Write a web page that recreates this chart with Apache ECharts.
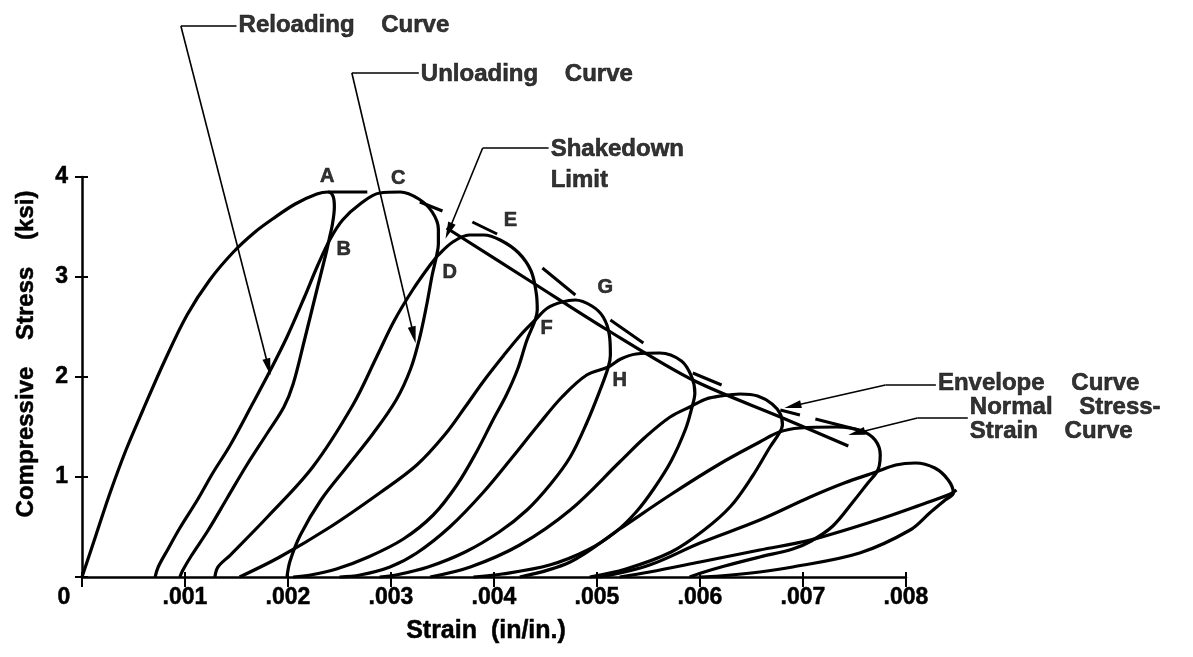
<!DOCTYPE html>
<html>
<head>
<meta charset="utf-8">
<script src="https://cdn.jsdelivr.net/npm/echarts/dist/echarts.min.js"></script>
<style>
  html, body { margin: 0; padding: 0; background: #fff; }
  #chart { width: 1193px; height: 657px; }
</style>
</head>
<body>
<div id="chart"></div>
<script>
// Cyclic compression of plain concrete: stress (ksi) against strain (in/in.)
const FONT = 'Liberation Sans';

const xTickLabels = ['0', '.001', '.002', '.003', '.004', '.005', '.006', '.007', '.008'];
const yTickLabels = ['', '1', '2', '3', '4'];

// first loading along the envelope up to A, then unloading through B
const loopA = [[0,0],[0.000136,0.42],[0.000272,0.84],[0.000427,1.27],[0.000592,1.67],[0.000806,2.17],[0.00102,2.62],[0.00124,2.97],[0.00147,3.25],[0.00168,3.45],[0.00185,3.58],[0.00207,3.73],[0.00228,3.83],[0.00239,3.85],[0.00244,3.80],[0.00245,3.70],[0.00243,3.52],[0.0024,3.38],[0.00237,3.24],[0.00228,2.87],[0.00216,2.37],[0.00205,1.93],[0.00196,1.70],[0.0018,1.44],[0.0016,1.12],[0.00141,0.79],[0.00122,0.46],[0.00106,0.21],[0.00098,0.07],[0.00095,0]];
// reloading through B to C, unloading through D
const loopC = [[0.00071,0],[0.00074,0.10],[0.00083,0.27],[0.00095,0.49],[0.00112,0.77],[0.00127,1.04],[0.00144,1.32],[0.00166,1.74],[0.00183,2.07],[0.00199,2.40],[0.00216,2.80],[0.00229,3.12],[0.00241,3.38],[0.00253,3.57],[0.0027,3.73],[0.00289,3.84],[0.00309,3.85],[0.00327,3.78],[0.0034,3.65],[0.00346,3.48],[0.00346,3.33],[0.00344,3.20],[0.0034,3.02],[0.00335,2.74],[0.00328,2.40],[0.00319,2.08],[0.00305,1.77],[0.00283,1.44],[0.00257,1.10],[0.00232,0.77],[0.00212,0.42],[0.00202,0.16],[0.00199,0]];
// reloading through D to E, unloading through F
const loopE = [[0.00129,0],[0.00132,0.10],[0.00144,0.22],[0.0018,0.60],[0.00224,1.10],[0.00263,1.72],[0.00286,2.20],[0.00303,2.56],[0.00321,2.87],[0.00338,3.12],[0.00346,3.22],[0.0036,3.35],[0.00376,3.42],[0.0039,3.42],[0.00406,3.37],[0.00424,3.24],[0.00436,3.06],[0.00441,2.84],[0.00442,2.67],[0.0044,2.57],[0.00432,2.37],[0.00423,2.08],[0.00412,1.82],[0.00399,1.57],[0.00383,1.25],[0.00364,0.92],[0.00341,0.62],[0.00312,0.38],[0.00278,0.20],[0.00247,0.08],[0.00222,0.02],[0.00205,0]];
// reloading through F to G, unloading through H
const loopG = [[0.00153,0],[0.00192,0.20],[0.00241,0.50],[0.00289,0.84],[0.00325,1.12],[0.00352,1.42],[0.00372,1.70],[0.0039,1.96],[0.00409,2.21],[0.00425,2.41],[0.0044,2.57],[0.00452,2.69],[0.00466,2.75],[0.00479,2.77],[0.00495,2.71],[0.00506,2.60],[0.00512,2.42],[0.00513,2.22],[0.00511,2.10],[0.00503,1.87],[0.0049,1.54],[0.00474,1.20],[0.00455,0.93],[0.00432,0.67],[0.00405,0.45],[0.00372,0.25],[0.00336,0.10],[0.00305,0.02],[0.00289,0]];
// later cycles past the peak
const loop5 = [[0.0025,0],[0.0027,0.02],[0.00299,0.10],[0.00325,0.24],[0.00357,0.50],[0.00389,0.84],[0.00418,1.20],[0.00443,1.52],[0.00466,1.80],[0.0049,2.02],[0.00511,2.10],[0.00523,2.18],[0.00538,2.23],[0.00561,2.24],[0.00582,2.16],[0.00592,2.00],[0.00595,1.84],[0.00592,1.69],[0.00586,1.48],[0.00572,1.16],[0.00555,0.88],[0.00538,0.65],[0.00518,0.45],[0.00491,0.27],[0.00454,0.12],[0.00408,0.03],[0.0038,0]];
const loop6 = [[0.00338,0],[0.00377,0.10],[0.00425,0.32],[0.00474,0.67],[0.00522,1.15],[0.00547,1.40],[0.00571,1.60],[0.00592,1.71],[0.00606,1.78],[0.0062,1.81],[0.00639,1.83],[0.00656,1.81],[0.0067,1.73],[0.00678,1.63],[0.0068,1.52],[0.00677,1.44],[0.00668,1.30],[0.00651,1.01],[0.0063,0.71],[0.00604,0.47],[0.00572,0.25],[0.00528,0.08],[0.00493,0]];
const loop7 = [[0.00425,0],[0.00474,0.15],[0.00522,0.48],[0.00571,0.82],[0.00619,1.13],[0.00658,1.35],[0.00677,1.45],[0.00697,1.49],[0.00733,1.50],[0.00757,1.46],[0.0077,1.37],[0.00775,1.22],[0.00774,1.11],[0.00771,1.04],[0.00763,0.94],[0.0075,0.77],[0.00729,0.51],[0.00708,0.36],[0.0069,0.28],[0.00658,0.20],[0.00624,0.11],[0.00601,0.04],[0.0059,0]];
const loop8 = [[0.00503,0],[0.00551,0.12],[0.006,0.34],[0.00658,0.57],[0.00707,0.80],[0.0074,0.94],[0.00771,1.05],[0.0079,1.12],[0.00809,1.14],[0.00828,1.09],[0.00841,0.97],[0.00846,0.84],[0.00838,0.77],[0.00823,0.64],[0.00804,0.47],[0.00755,0.24],[0.0069,0.10],[0.00658,0.05],[0.00619,0.01],[0.006,0]];
const lastReload = [[0.00522,0],[0.00551,0.05],[0.006,0.15],[0.00658,0.27],[0.00707,0.37],[0.00772,0.57],[0.00814,0.72],[0.00843,0.83],[0.00849,0.87]];

// straight descending branch
const normalCurve = [[0.00354,3.49],[0.00438,2.94],[0.0051,2.47],[0.00593,1.97],[0.00678,1.60],[0.00744,1.31]];

// dashed envelope, one pair per dash
const envelopeDashes = [
  [[0.00239,3.85],[0.00277,3.85]],
  [[0.00328,3.75],[0.0035,3.66]],
  [[0.00379,3.55],[0.00403,3.43]],
  [[0.00447,3.09],[0.00479,2.82]],
  [[0.00513,2.57],[0.00545,2.34]],
  [[0.00593,2.04],[0.00621,1.92]],
  [[0.00678,1.67],[0.00697,1.62]],
  [[0.00712,1.58],[0.00762,1.45]]
];

// point letters
const pointNames = ['A','B','C','D','E','F','G','H'];
const pointPos = [[0.00238,4.01],[0.00254,3.28],[0.00307,3.99],[0.00357,3.05],[0.00416,3.57],[0.00451,2.49],[0.00508,2.90],[0.00522,1.97]];

// callouts: text anchor, leader start, elbow, arrow tip
const calloutText = ['Reloading    Curve', 'Unloading    Curve', 'Shakedown\nLimit', 'Envelope    Curve', 'Normal    Stress-\nStrain    Curve'];
const calloutAnchor = [[0.00152,5.52],[0.00329,5.03],[0.00455,4.12],[0.00831,1.94],[0.00862,1.58]];
const calloutStart = [[0.00150,5.51],[0.00327,5.04],[0.00453,4.29],[0.00829,1.92],[0.0086,1.59]];
const calloutElbow = [[0.00096,5.51],[0.00262,5.04],[0.00389,4.29],[0.0078,1.92],[0.00811,1.59]];
const calloutTip = [[0.00181,2.10],[0.00322,2.42],[0.00356,3.46],[0.00690,1.71],[0.00752,1.44]];
const calloutLineHeight = [28, 28, 31, 28, 24];

const black = '#000';
const series = [];
const dataAxes = { xAxisIndex: 2, yAxisIndex: 2 };

[loopA, loopC, loopE, loopG, loop5, loop6, loop7, loop8, lastReload].forEach(function (d) {
  series.push(Object.assign({
    type: 'line', data: d, showSymbol: false, symbol: 'none', smooth: 0.35,
    clip: false, silent: true, lineStyle: { color: black, width: 3.2 }
  }, dataAxes));
});

series.push(Object.assign({
  type: 'line', data: normalCurve, showSymbol: false, symbol: 'none', smooth: 0.3,
  clip: false, silent: true, lineStyle: { color: black, width: 3.2 }
}, dataAxes));

envelopeDashes.forEach(function (d) {
  series.push(Object.assign({
    type: 'line', data: d, showSymbol: false, symbol: 'none',
    clip: false, silent: true, lineStyle: { color: black, width: 3 }
  }, dataAxes));
});

const boldText = { color: black, fontFamily: FONT, fontWeight: 'bold', textBorderColor: black, textBorderWidth: 0.6 };

series.push(Object.assign({
  type: 'scatter', symbolSize: 0, clip: false, silent: true,
  data: pointPos.map(function (p, i) { return { value: p, name: pointNames[i] }; }),
  label: Object.assign({ show: true, position: 'inside', formatter: '{b}', fontSize: 20 }, boldText)
}, dataAxes));

series.push(Object.assign({
  type: 'scatter', symbolSize: 0, clip: false, silent: true,
  data: calloutAnchor.map(function (p, i) {
    return { value: p, name: calloutText[i], label: { lineHeight: calloutLineHeight[i] } };
  }),
  label: Object.assign({ show: true, position: 'right', distance: 0, formatter: '{b}', fontSize: 24, align: 'left' }, boldText)
}, dataAxes));

// horizontal leaders next to the callout text
series.push(Object.assign({
  type: 'lines', coordinateSystem: 'cartesian2d', clip: false, silent: true,
  symbol: ['none', 'none'],
  lineStyle: { color: black, width: 1.6, opacity: 1, curveness: 0 },
  data: calloutStart.map(function (p, i) { return { coords: [p, calloutElbow[i]] }; })
}, dataAxes));
// slanted arrows down to the curves
series.push(Object.assign({
  type: 'lines', coordinateSystem: 'cartesian2d', clip: false, silent: true,
  symbol: ['none', 'triangle'], symbolSize: [1, [8, 17]],
  lineStyle: { color: black, width: 1.6, opacity: 1, curveness: 0 },
  data: calloutElbow.map(function (p, i) { return { coords: [p, calloutTip[i]] }; })
}, dataAxes));

const labelFont = { fontFamily: FONT, fontWeight: 'bold', fontSize: 23, color: black, textBorderColor: black, textBorderWidth: 0.5 };
const titleFont = Object.assign({}, labelFont, { fontSize: 25 });
const hiddenAxis = { show: false, axisLine: { show: false }, axisTick: { show: false }, axisLabel: { show: false }, splitLine: { show: false } };

const option = {
  animation: false,
  backgroundColor: '#fff',
  grid: [
    { left: 82, right: 287, top: 177, bottom: 80, containLabel: false },
    // same scale as the first grid, extended to 0.009 so the last loop is not cut off
    { left: 82, right: 184, top: 177, bottom: 80, containLabel: false }
  ],
  xAxis: [{
    gridIndex: 0, type: 'value', min: 0, max: 0.008, interval: 0.001, position: 'bottom',
    axisLine: { lineStyle: { color: black, width: 2.5 } },
    axisTick: { length: 10, lineStyle: { color: black, width: 2 } },
    splitLine: { show: false },
    axisLabel: Object.assign({
      margin: 9,
      formatter: function (v) {
        const i = Math.round(v * 1000);
        return i === 0 ? '{zero|' + xTickLabels[0] + '}' : xTickLabels[i];
      },
      rich: { zero: Object.assign({ padding: [0, 36, 0, 0] }, labelFont) }
    }, labelFont),
    name: 'Strain  (in/in.)', nameLocation: 'middle', nameGap: 42,
    nameTextStyle: Object.assign({ padding: [0, 16, 0, 0] }, titleFont)
  }, {
    gridIndex: 0, type: 'value', min: 0, max: 0.008, interval: 0.001, position: 'bottom',
    axisLine: { show: false },
    axisTick: { inside: true, length: 5, lineStyle: { color: black, width: 2 } },
    axisLabel: { show: false }, splitLine: { show: false }
  }, Object.assign({ gridIndex: 1, type: 'value', min: 0, max: 0.009 }, hiddenAxis)],
  yAxis: [{
    gridIndex: 0, type: 'value', min: 0, max: 4, interval: 1, position: 'left',
    axisLine: { lineStyle: { color: black, width: 2.5 } },
    axisTick: { length: 7, lineStyle: { color: black, width: 2 } },
    splitLine: { show: false },
    axisLabel: Object.assign({
      margin: 14,
      formatter: function (v) { return yTickLabels[Math.round(v)]; }
    }, labelFont),
    name: 'Compressive    Stress    (ksi)', nameLocation: 'middle', nameGap: 44,
    nameTextStyle: Object.assign({ padding: [0, 0, 0, 46] }, Object.assign({}, labelFont, { fontSize: 24 }))
  }, {
    gridIndex: 0, type: 'value', min: 0, max: 4, interval: 1, position: 'left',
    axisLine: { show: false },
    axisTick: { inside: true, length: 6, lineStyle: { color: black, width: 2 } },
    axisLabel: { show: false }, splitLine: { show: false }
  }, Object.assign({ gridIndex: 1, type: 'value', min: 0, max: 4 }, hiddenAxis)],
  series: series
};

const chart = echarts.init(document.getElementById('chart'), null, { renderer: 'canvas' });
chart.setOption(option);
</script>
</body>
</html>
